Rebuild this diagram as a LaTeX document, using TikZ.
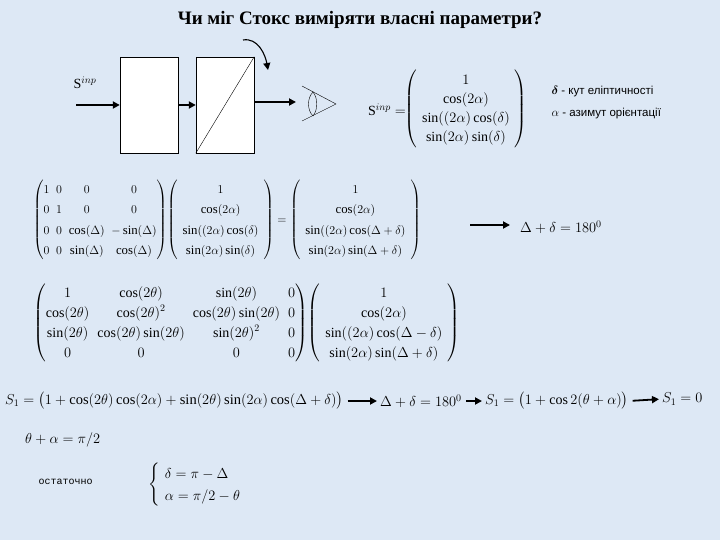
\documentclass[tikz,border=0pt]{standalone}
\usepackage{amsmath}
\usepackage{fontspec}
\setmainfont{Liberation Serif}
\newfontfamily\legfont{Liberation Sans}
\newfontfamily\monof{Liberation Mono}
\usetikzlibrary{arrows.meta}
\definecolor{bg}{HTML}{DDE8F5}
\tikzset{
  ar/.style={-{Triangle[length=7pt,width=7pt]}, line width=1.8pt, shorten <=4pt, shorten >=3pt},
  boxx/.style={draw, fill=white, minimum width=58pt, minimum height=96pt, inner sep=0pt},
  eq/.style={inner sep=0pt, font=\fontsize{14}{16}\selectfont},
}
\begin{document}
\begin{tikzpicture}[x=1pt,y=-1pt]
\fill[bg] (0,0) rectangle (720,540);
\useasboundingbox (0,0) rectangle (720,540);
\node[font=\bfseries\fontsize{19}{22}\selectfont] (title) at (360,20) {Чи міг Стокс виміряти власні параметри?};
% optical setup
\node[boxx] (b1) at (149,105) {};
\node[boxx] (b2) at (225,105) {};
\draw (b2.south west) -- (b2.north east);
\coordinate (in) at (76,105);
\coordinate (out) at (296,102);
\coordinate (r1) at (243,40);
\coordinate (r2) at (268,70);
\node[eq] (sl) at (85,83) {$\mathrm{S}^{inp}$};
\draw[ar, shorten <=0pt, shorten >=0pt] (in) -- (b1.west);
\draw[ar, shorten <=0pt, shorten >=0pt] (b1.east) -- (b2.west);
\draw[ar, shorten <=0pt, shorten >=0pt] (b2.east |- out) -- (out);
\draw[-{Triangle[length=7pt,width=7pt]}, line width=1.1pt] (r1) to[out=10,in=100] (r2);
% eye
\coordinate (e1) at (302,86);
\coordinate (e2) at (336,104);
\coordinate (e3) at (302,121);
\draw (e1) -- (e2) -- (e3);
\draw (313,92) .. controls (307,98) and (307,110) .. (313,116);
\draw (313,92) .. controls (318,98) and (318,110) .. (313,116);
% S^inp vector
\node[eq,anchor=east] (sv) at (406,110) {$\mathrm{S}^{inp}=$};
\node[eq] (vec) at (466,109) {$\left(\renewcommand{\arraystretch}{1.2}\begin{array}{c}1\\ \cos(2\alpha)\\ \sin((2\alpha)\cos(\delta)\\ \sin(2\alpha)\sin(\delta)\end{array}\right)$};
\node[anchor=west, font=\legfont\fontsize{11.5}{13}\selectfont] (l1) at (548,92) {$\boldsymbol{\delta}$ - кут еліптичності};
\node[anchor=west, font=\legfont\fontsize{11.5}{13}\selectfont] (l2) at (548,114) {$\alpha$ - азимут орієнтації};
% row 2
\node[eq,anchor=west,font=\fontsize{12.8}{15}\selectfont] (m1) at (33,220) {$\renewcommand{\arraystretch}{1.35}\left(\begin{array}{@{}c@{\;\;}c@{\;\;}c@{\;\;}c@{}}1&0&0&0\\0&1&0&0\\0&0&\cos(\Delta)&-\sin(\Delta)\\0&0&\sin(\Delta)&\cos(\Delta)\end{array}\right)\!\left(\begin{array}{c}1\\ \cos(2\alpha)\\ \sin((2\alpha)\cos(\delta)\\ \sin(2\alpha)\sin(\delta)\end{array}\right)=\left(\begin{array}{c}1\\ \cos(2\alpha)\\ \sin((2\alpha)\cos(\Delta+\delta)\\ \sin(2\alpha)\sin(\Delta+\delta)\end{array}\right)$};
\node[eq,anchor=west] (c1) at (520,227) {$\Delta+\delta=180^0$};
\coordinate (a1) at (470,225);
\draw[ar, shorten <=0pt, shorten >=0pt] (a1) -- (510,225);
% row 3
\node[eq,anchor=west] (m2) at (33,323) {$\renewcommand{\arraystretch}{1.25}\left(\begin{array}{@{}c@{\;\;}c@{\;\;}c@{\;\;}c@{}}1&\cos(2\theta)&\sin(2\theta)&0\\ \cos(2\theta)&\cos(2\theta)^2&\cos(2\theta)\sin(2\theta)&0\\ \sin(2\theta)&\cos(2\theta)\sin(2\theta)&\sin(2\theta)^2&0\\ 0&0&0&0\end{array}\right)\!\left(\begin{array}{c}1\\ \cos(2\alpha)\\ \sin((2\alpha)\cos(\Delta-\delta)\\ \sin(2\alpha)\sin(\Delta+\delta)\end{array}\right)$};
% S1 line
\node[eq,anchor=west,font=\fontsize{14.5}{16}\selectfont] (s1) at (5,401) {$S_1=\bigl(1+\cos(2\theta)\cos(2\alpha)+\sin(2\theta)\sin(2\alpha)\cos(\Delta+\delta)\bigr)$};
\node[eq,anchor=west] (s2) at (380,401) {$\Delta+\delta=180^0$};
\node[eq,anchor=west] (s3) at (485,401) {$S_1=\bigl(1+\cos2(\theta+\alpha)\bigr)$};
\node[eq,anchor=west] (s4) at (662,399) {$S_1=0$};
\draw[ar] (s1.east) -- (s2.west);
\draw[ar] (s2.east) -- (s3.west);
\draw[ar] (s3.east) -- (s4.west);
\node[eq,anchor=west] (t1) at (25,440) {$\theta+\alpha=\pi/2$};
\node[anchor=west, font=\monof\fontsize{10}{12}\selectfont] (ost) at (35,482) {остаточно};
\node[eq,anchor=west] (sys) at (148,485) {$\left\{\renewcommand{\arraystretch}{1.4}\begin{array}{l}\delta=\pi-\Delta\\ \alpha=\pi/2-\theta\end{array}\right.$};
\end{tikzpicture}
\end{document}
